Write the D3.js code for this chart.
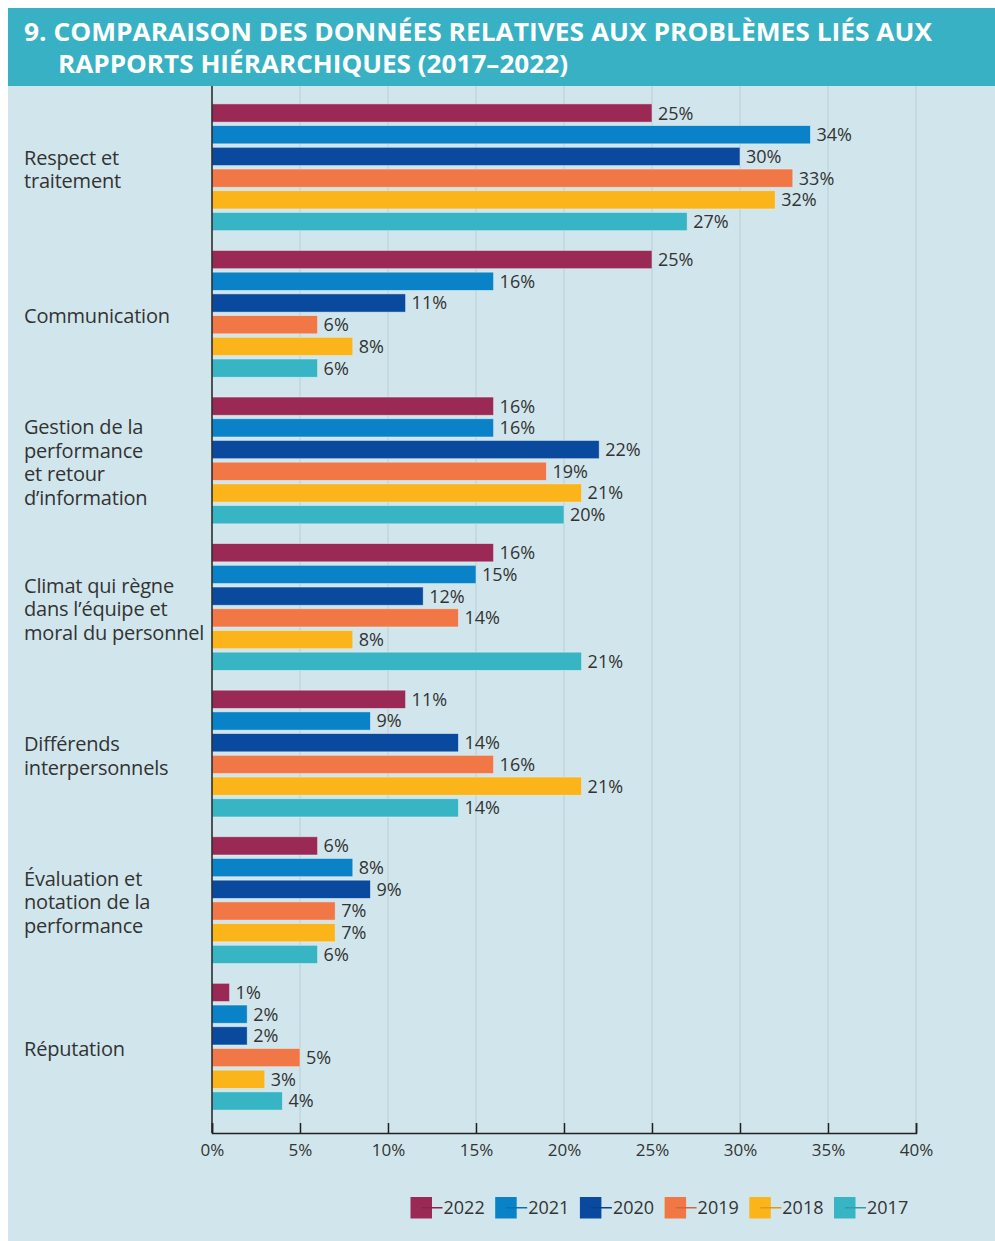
<!DOCTYPE html>
<html>
<head>
<meta charset="utf-8">
<script src="https://cdn.jsdelivr.net/npm/d3@7"></script>
<style>
  body { margin: 0; background: #fff; }
  text { font-family: "Open Sans", sans-serif; }
</style>
</head>
<body>
<div id="chart"></div>
<script>
const width = 995;
const height = 1241;

// Title
const titleLines = [
  "9. COMPARAISON DES DONNÉES RELATIVES AUX PROBLÈMES LIÉS AUX",
  "RAPPORTS HIÉRARCHIQUES (2017–2022)"
];

// Categories (one entry per group, split in display lines)
const categories = [
  "Respect et traitement",
  "Communication",
  "Gestion de la performance et retour d’information",
  "Climat qui règne dans l’équipe et moral du personnel",
  "Différends interpersonnels",
  "Évaluation et notation de la performance",
  "Réputation"
];
const categoryLines = [
  ["Respect et", "traitement"],
  ["Communication"],
  ["Gestion de la", "performance", "et retour", "d’information"],
  ["Climat qui règne", "dans l’équipe et", "moral du personnel"],
  ["Différends", "interpersonnels"],
  ["Évaluation et", "notation de la", "performance"],
  ["Réputation"]
];

const years = ["2022", "2021", "2020", "2019", "2018", "2017"];
const colors = ["#9a2a55", "#0a82c8", "#0a4a9e", "#f17846", "#fbb419", "#37b5c4"];

// Values in %, one array per year, in category order
const values2022 = [25, 25, 16, 16, 11, 6, 1];
const values2021 = [34, 16, 16, 15, 9, 8, 2];
const values2020 = [30, 11, 22, 12, 14, 9, 2];
const values2019 = [33, 6, 19, 14, 16, 7, 5];
const values2018 = [32, 8, 21, 8, 21, 7, 3];
const values2017 = [27, 6, 20, 21, 14, 6, 4];
const seriesValues = [values2022, values2021, values2020, values2019, values2018, values2017];

const xTicks = [0, 5, 10, 15, 20, 25, 30, 35, 40];

const svg = d3.select("#chart")
  .append("svg")
  .attr("width", width)
  .attr("height", height);

// background panel
svg.append("rect")
  .attr("x", 8).attr("y", 8)
  .attr("width", width - 8).attr("height", height - 8)
  .attr("fill", "#d1e6ec");

// title band
svg.append("rect")
  .attr("x", 8).attr("y", 8)
  .attr("width", width - 8).attr("height", 78)
  .attr("fill", "#37b1c3");

const titleX = [24, 58];
const titleEnd = [932, 568];
titleLines.forEach((t, i) => {
  svg.append("text")
    .attr("x", titleX[i])
    .attr("y", 41 + i * 32)
    .attr("fill", "#fff")
    .attr("font-size", 25)
    .attr("font-weight", 700)
    .attr("textLength", titleEnd[i] - titleX[i])
    .attr("lengthAdjust", "spacingAndGlyphs")
    .text(t);
});

// scales
const x = d3.scaleLinear().domain([0, 40]).range([212, 916]);
const y0 = d3.scaleBand()
  .domain(categories)
  .range([94, 1120])
  .paddingInner(0.135)
  .paddingOuter(0.0675);
const y1 = d3.scaleBand()
  .domain(years)
  .range([0, y0.bandwidth()])
  .paddingInner(0.16);

const plotTop = 86;
const axisY = 1133;

// gridlines
svg.append("g")
  .selectAll("line")
  .data(xTicks.slice(1))
  .join("line")
  .attr("x1", d => x(d)).attr("x2", d => x(d))
  .attr("y1", plotTop).attr("y2", axisY)
  .attr("stroke", "#b9cdd3")
  .attr("stroke-width", 1);

// bars
const rows = categories.map((c, ci) => ({
  category: c,
  values: years.map((yr, yi) => ({ year: yr, value: seriesValues[yi][ci], color: colors[yi] }))
}));

const groups = svg.append("g")
  .selectAll("g")
  .data(rows)
  .join("g")
  .attr("transform", d => `translate(0,${y0(d.category)})`);

groups.selectAll("rect")
  .data(d => d.values)
  .join("rect")
  .attr("x", x(0))
  .attr("y", d => y1(d.year))
  .attr("width", d => x(d.value) - x(0))
  .attr("height", y1.bandwidth())
  .attr("fill", d => d.color)
  .attr("stroke", "#e6f3f6")
  .attr("stroke-opacity", 0.6)
  .attr("stroke-width", 0.8);

groups.selectAll("text.val")
  .data(d => d.values)
  .join("text")
  .attr("class", "val")
  .attr("x", d => x(d.value) + 6)
  .attr("y", d => y1(d.year) + y1.bandwidth() / 2)
  .attr("dy", "0.36em")
  .attr("font-size", 18)
  .attr("fill", "#333")
  .text(d => d.value + "%");

// category labels
const lineH = 23.5;
svg.append("g")
  .selectAll("text")
  .data(categories)
  .join("text")
  .attr("x", 24)
  .attr("y", (d, i) => y0(d) + y0.bandwidth() / 2 + 2 - (categoryLines[i].length - 1) * lineH / 2)
  .attr("font-size", 20)
  .attr("letter-spacing", -0.2)
  .attr("fill", "#333")
  .each(function(d, i) {
    d3.select(this).selectAll("tspan")
      .data(categoryLines[i])
      .join("tspan")
      .attr("x", 24)
      .attr("dy", (t, j) => j === 0 ? "0.36em" : lineH)
      .text(t => t);
  });

// vertical axis line
svg.append("line")
  .attr("x1", x(0)).attr("x2", x(0))
  .attr("y1", plotTop).attr("y2", axisY)
  .attr("stroke", "#222")
  .attr("stroke-width", 1.5);

// x axis
const xAxis = svg.append("g")
  .attr("transform", `translate(0,${axisY})`)
  .call(d3.axisBottom(x).tickValues(xTicks).tickSize(-10).tickPadding(11).tickFormat(d => d + "%"));
xAxis.select(".domain").attr("stroke", "#222").attr("stroke-width", 1.5);
xAxis.selectAll(".tick line").attr("stroke", "#222").attr("stroke-width", 1.5);
xAxis.selectAll(".tick text")
  .attr("font-family", "Open Sans, sans-serif")
  .attr("font-size", 17)
  .attr("fill", "#333");

// legend
const legend = svg.append("g")
  .selectAll("g")
  .data(years)
  .join("g")
  .attr("transform", (d, i) => `translate(${410.5 + i * 84.7},1197)`);

legend.append("rect")
  .attr("width", 21.5).attr("height", 21.5)
  .attr("fill", (d, i) => colors[i]);
legend.append("line")
  .attr("x1", 11).attr("x2", 32)
  .attr("y1", 10.75).attr("y2", 10.75)
  .attr("stroke", (d, i) => d3.color(colors[i]).darker(0.4))
  .attr("stroke-width", 1.5);
legend.append("text")
  .attr("x", 33)
  .attr("y", 10.75)
  .attr("dy", "0.36em")
  .attr("font-size", 18)
  .attr("fill", "#333")
  .text(d => d);
</script>
</body>
</html>
